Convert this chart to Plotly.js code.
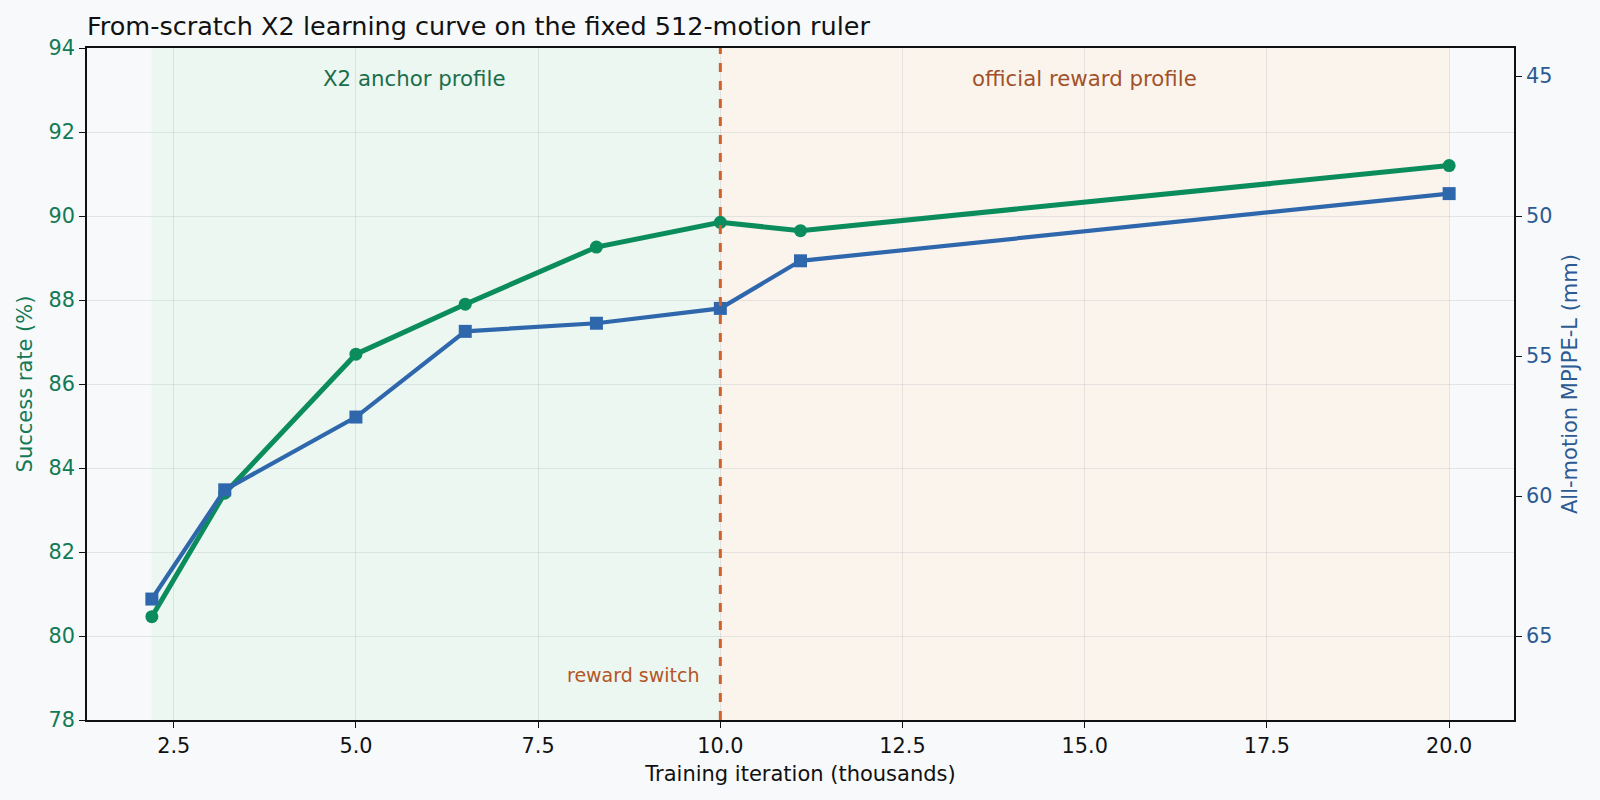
<!DOCTYPE html>
<html>
<head>
<meta charset="utf-8">
<script src="https://cdn.plot.ly/plotly-3.0.1.min.js"></script>
<style>
  html, body { margin: 0; padding: 0; background: #f7f9fb; }
  #plot { width: 1600px; height: 800px; }
</style>
</head>
<body>
<div id="plot"></div>
<script>
// training checkpoints (thousands of iterations) and the two metrics read at each
const iterations = [2.2, 3.2, 5.0, 6.5, 8.3, 10.0, 11.1, 20.0];
const successRate = [80.46, 83.40, 86.71, 87.90, 89.26, 89.85, 89.65, 91.20];
const mpjpeL = [63.68, 59.78, 57.18, 54.12, 53.83, 53.30, 51.60, 49.20];

// reward profile phases
const anchorStart = 2.2;
const switchAt = 10.0;
const officialEnd = 20.0;

const font = 'DejaVu Sans, Liberation Sans, sans-serif';
const green = '#0b8c5c';
const blue = '#2f67ad';
const orange = '#d2602a';

const successTrace = {
    x: iterations,
    y: successRate,
    type: 'scatter',
    mode: 'lines+markers',
    line: { color: green, width: 5 },
    marker: { color: green, size: 13, symbol: 'circle' },
    name: 'Success rate',
    showlegend: false
};

const mpjpeTrace = {
    x: iterations,
    y: mpjpeL,
    yaxis: 'y2',
    type: 'scatter',
    mode: 'lines+markers',
    line: { color: blue, width: 4.2 },
    marker: { color: blue, size: 13, symbol: 'square' },
    name: 'MPJPE-L',
    showlegend: false
};

const layout = {
    width: 1600,
    height: 800,
    paper_bgcolor: '#f7f9fb',
    plot_bgcolor: '#f7f9fb',
    font: { family: font, size: 20.8, color: '#111' },
    margin: { l: 87, r: 86, t: 48, b: 80 },
    title: {
        text: 'From-scratch X2 learning curve on the fixed 512-motion ruler',
        font: { family: font, size: 25.5, color: '#111' },
        x: 0, xref: 'paper', xanchor: 'left',
        y: 1, yref: 'paper', yanchor: 'bottom', pad: { b: 13 }
    },
    xaxis: {
        range: [1.31, 20.89],
        tickvals: [2.5, 5, 7.5, 10, 12.5, 15, 17.5, 20],
        tickformat: '.1f',
        ticks: 'outside', ticklen: 6, tickcolor: '#111',
        showline: true, linecolor: '#111', linewidth: 1.5, mirror: true,
        showgrid: true, gridcolor: 'rgba(150,160,170,0.22)', gridwidth: 1,
        zeroline: false,
        title: { text: 'Training iteration (thousands)', font: { family: font, size: 21, color: '#111' }, standoff: 10 }
    },
    yaxis: {
        range: [78, 94],
        dtick: 2,
        ticks: 'outside', ticklen: 6, tickcolor: '#111',
        tickfont: { color: '#137a55' },
        showline: true, linecolor: '#111', linewidth: 1.5,
        showgrid: true, gridcolor: 'rgba(150,160,170,0.22)', gridwidth: 1,
        zeroline: false,
        title: { text: 'Success rate (%)', font: { family: font, size: 21, color: '#137a55' }, standoff: 10 }
    },
    yaxis2: {
        overlaying: 'y',
        side: 'right',
        range: [68, 44],
        tickvals: [45, 50, 55, 60, 65],
        ticks: 'outside', ticklen: 6, tickcolor: '#111',
        tickfont: { color: '#2c5a93' },
        showline: true, linecolor: '#111', linewidth: 1.5,
        showgrid: false, zeroline: false,
        title: { text: 'All-motion MPJPE-L (mm)', font: { family: font, size: 21, color: '#2c5a93' }, standoff: 11 }
    },
    shapes: [
        {
            type: 'rect', xref: 'x', yref: 'paper',
            x0: anchorStart, x1: switchAt, y0: 0, y1: 1,
            fillcolor: '#e9f6ef', opacity: 0.8, line: { width: 0 }, layer: 'below'
        },
        {
            type: 'rect', xref: 'x', yref: 'paper',
            x0: switchAt, x1: officialEnd, y0: 0, y1: 1,
            fillcolor: '#fbf2ea', opacity: 0.8, line: { width: 0 }, layer: 'below'
        },
        {
            type: 'line', xref: 'x', yref: 'paper',
            x0: switchAt, x1: switchAt, y0: 0, y1: 1,
            line: { color: orange, width: 3, dash: 'dash' }
        }
    ],
    annotations: [
        {
            text: 'X2 anchor profile', xref: 'x', yref: 'paper',
            x: 5.8, y: 0.954, yanchor: 'middle', showarrow: false,
            font: { family: font, size: 21.3, color: '#1b6e4c' }
        },
        {
            text: 'official reward profile', xref: 'x', yref: 'paper',
            x: 15.0, y: 0.954, yanchor: 'middle', showarrow: false,
            font: { family: font, size: 21.3, color: '#a2522a' }
        },
        {
            text: 'reward switch', xref: 'x', yref: 'paper',
            x: 9.75, y: 0.067, xanchor: 'right', yanchor: 'middle', showarrow: false,
            font: { family: font, size: 19, color: '#b45526' }
        }
    ]
};

Plotly.newPlot('plot', [successTrace, mpjpeTrace], layout, { displayModeBar: false });
</script>
</body>
</html>
